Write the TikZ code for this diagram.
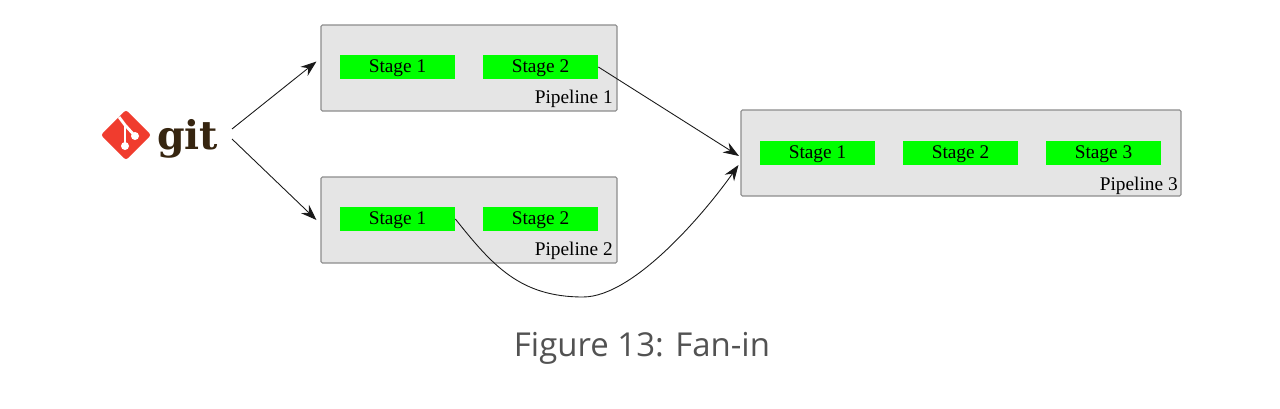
\documentclass[tikz,border=0pt]{standalone}
\usepackage{fontspec}
\setmainfont{Liberation Serif}
\newfontfamily\capfont{Open Sans}
\newfontfamily\gitfont{DejaVu Serif}
\usetikzlibrary{arrows.meta}
\definecolor{gitred}{HTML}{F03C2E}
\definecolor{gitbrown}{HTML}{362510}
\begin{document}
\begin{tikzpicture}
      \useasboundingbox(0,0) rectangle (25.6,8.16);
      \tikzset{B/.style = {shape=rectangle, draw=black!45, fill=black!10, line width=0.6pt, rounded corners=0.8pt, minimum width=#1, minimum height=1.72cm, inner sep=0pt}}
      \tikzset{S/.style = {shape=rectangle, fill=green, text=black, minimum width=2.3cm, minimum height=0.49cm, inner sep=0pt, text height=8pt, text depth=2pt, font=\fontsize{11}{12}\selectfont}}
      \tikzset{L/.style = {text=black, inner sep=0pt, anchor=south east, font=\fontsize{11}{12}\selectfont}}
      \tikzset{E/.style = {draw,black!90,line width=0.5pt,-{Stealth[length=9pt,width=6.5pt,inset=3pt]}}}
      % pipelines
      \node[B=5.92cm](p1) at (9.38,6.8) {};
      \node[B=5.92cm](p2) at (9.38,3.76) {};
      \node[B=8.8cm](p3) at (19.22,5.1) {};
      \node[S](s11) at (7.95,6.82) {Stage 1};
      \node[S](s12) at (10.81,6.82) {Stage 2};
      \node[S](s21) at (7.95,3.78) {Stage 1};
      \node[S](s22) at (10.81,3.78) {Stage 2};
      \node[S](s31) at (16.35,5.1) {Stage 1};
      \node[S](s32) at (19.21,5.1) {Stage 2};
      \node[S](s33) at (22.07,5.1) {Stage 3};
      \node[L](l1) at (12.26,6.01) {Pipeline 1};
      \node[L](l2) at (12.26,2.97) {Pipeline 2};
      \node[L](l3) at (23.56,4.26) {Pipeline 3};
      % git logo
      \node[shape=rectangle, fill=gitred, rotate=45, rounded corners=1.5pt, minimum size=0.71cm, inner sep=0pt](logo) at (2.52,5.46) {};
      \draw[white, line width=1.6pt] (2.38,5.82) -- (2.5,5.66) -- (2.7,5.44);
      \draw[white, line width=1.6pt] (2.5,5.66) -- (2.5,5.24);
      \fill[white] (2.5,5.24) circle (0.08) (2.7,5.44) circle (0.08);
      \node[text=gitbrown, inner sep=0pt, anchor=base, font=\gitfont\fontsize{22.5}{30}\selectfont\bfseries](git) at (3.75,5.17) {git};
      \coordinate (gitup) at (4.64,5.58);
      \coordinate (gitdown) at (4.64,5.38);
      \coordinate (low) at (11.66,2.22);
      % connectors
      \draw[E](gitup) to ([shift={(-0.08,0.13)}]p1.west);
      \draw[E](gitdown) to ([xshift=-0.08cm]p2.west);
      \draw[E](s12.east) to ([shift={(-0.03,-0.06)}]p3.west);
      \draw[E](s21.east) .. controls (9.85,2.85) and (10.4,2.22) .. (low) .. controls (12.7,2.22) and (14.16,3.99) .. ([shift={(-0.04,-0.24)}]p3.west);
      % caption
      \node[text=black!68, inner sep=0pt, font=\capfont\fontsize{18.75}{20}\selectfont](cap) at (12.84,1.19) {Figure 13: Fan-in};
\end{tikzpicture}
\end{document}
